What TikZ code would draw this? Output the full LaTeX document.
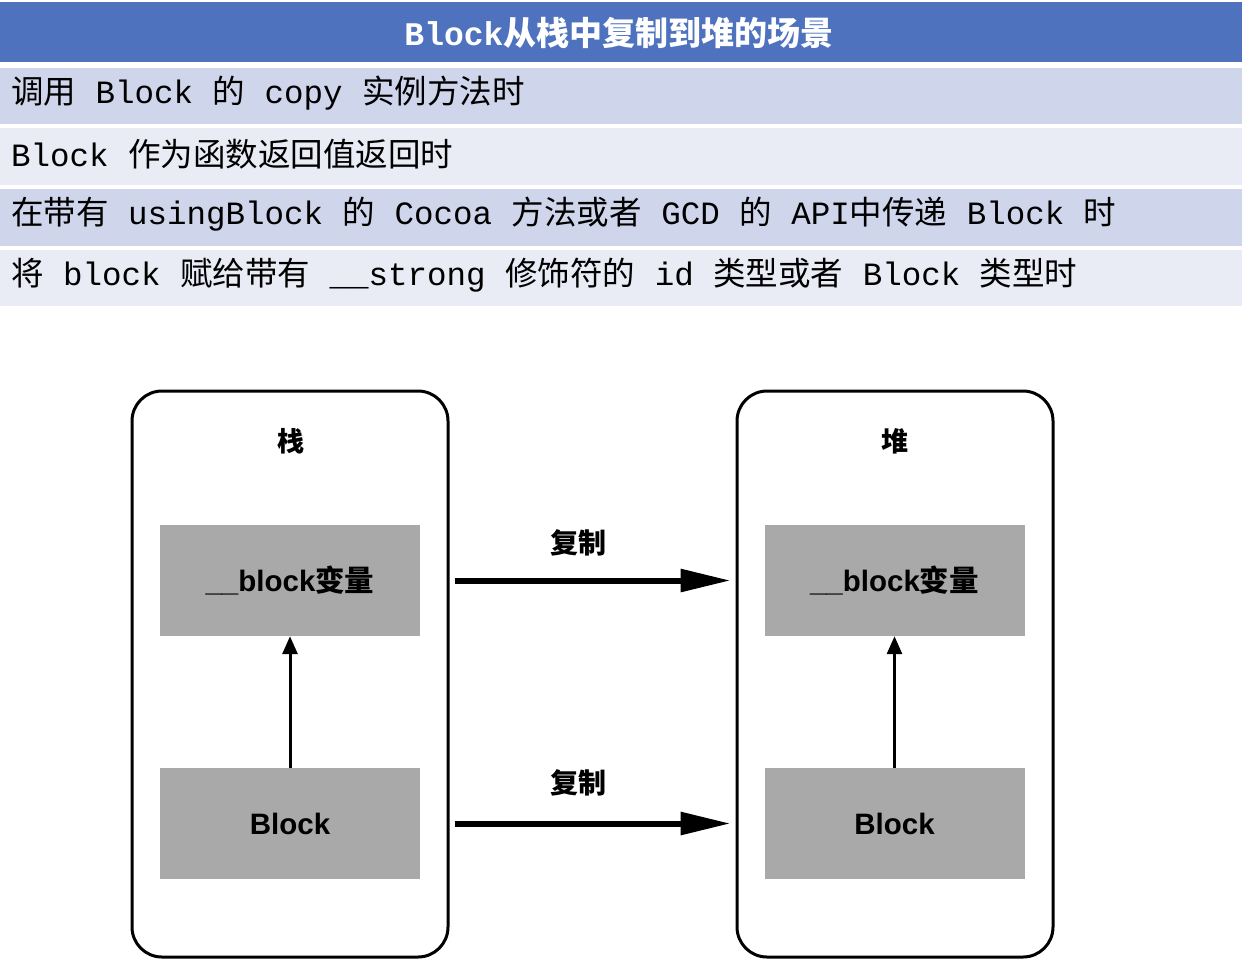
\documentclass[tikz,border=0pt]{standalone}
\usepackage{fontspec}
\setmainfont{Liberation Sans}
\setmonofont{Liberation Mono}
\newfontfamily\zhfont{Noto Sans CJK SC}
\newcommand{\zh}[1]{{\zhfont #1}}
\usetikzlibrary{arrows.meta}
\definecolor{hdr}{HTML}{4E72BE}
\definecolor{rowa}{HTML}{CFD5EA}
\definecolor{rowb}{HTML}{E9EBF5}
\definecolor{boxgray}{HTML}{A9A9A9}
\tikzset{
  rowtext/.style={anchor=west, inner sep=0pt, font=\ttfamily\fontsize{32.5}{32.5}\selectfont},
  container/.style={draw, line width=3pt, rounded corners=30pt, minimum width=316pt, minimum height=566pt, inner sep=0pt},
  graybox/.style={fill=boxgray, minimum width=260pt, minimum height=111pt, inner sep=0pt, font=\bfseries\fontsize{29.5}{29.5}\selectfont},
  title/.style={font=\zhfont\bfseries\fontsize{27}{27}\selectfont, inner sep=0pt},
  bigarrow/.style={line width=6pt, -{Triangle[length=50pt,width=22pt]}, shorten <=5pt, shorten >=5pt},
  smallarrow/.style={line width=3pt, -{Triangle[length=18pt,width=15pt]}},
  copylabel/.style={font=\zhfont\bfseries\fontsize{28}{28}\selectfont, inner sep=0pt}
}
\begin{document}
\begin{tikzpicture}[x=1pt,y=-1pt]
\useasboundingbox (0,0) rectangle (1246,970);
% table
\fill[hdr] (0,2) rectangle (1242,62);
\fill[rowa] (0,68) rectangle (1242,124);
\fill[rowb] (0,128) rectangle (1242,185);
\fill[rowa] (0,189) rectangle (1242,246);
\fill[rowb] (0,250) rectangle (1242,306);
\node[text=white, inner sep=0pt, font=\ttfamily\bfseries\fontsize{33}{33}\selectfont] (head) at (619,33) {Block\zh{\bfseries 从栈中复制到堆的场景}};
\node[rowtext] (r1) at (11,93) {\zh{调用} Block \zh{的} copy \zh{实例方法时}};
\node[rowtext] (r2) at (11,154) {Block \zh{作为函数返回值返回时}};
\node[rowtext] (r3) at (11,214) {\zh{在带有} usingBlock \zh{的} Cocoa \zh{方法或者} GCD \zh{的} API\zh{中传递} Block \zh{时}};
\node[rowtext] (r4) at (11,275) {\zh{将} block \zh{赋给带有} \_\_strong \zh{修饰符的} id \zh{类型或者} Block \zh{类型时}};
% diagram
\node[container] (stack) at (290,674) {};
\node[container] (heap) at (895,674) {};
\node[title] (stacklbl) at (291,441) {栈};
\node[title] (heaplbl) at (895,441) {堆};
\node[graybox] (lvar) at (290,580.5) {\_\_block\zh{\bfseries 变量}};
\node[graybox] (lblk) at (290,823.5) {Block};
\node[graybox] (rvar) at (894.5,580.5) {\_\_block\zh{\bfseries 变量}};
\node[graybox] (rblk) at (894.5,823.5) {Block};
\draw[smallarrow] (lblk.north) -- (lvar.south);
\draw[smallarrow] (rblk.north) -- (rvar.south);
\draw[bigarrow] (stack.east |- lvar.center) -- (heap.west |- rvar.center);
\draw[bigarrow] (stack.east |- lblk.center) -- (heap.west |- rblk.center);
\node[copylabel] (c1) at (578,543) {复制};
\node[copylabel] (c2) at (578,783) {复制};
\end{tikzpicture}
\end{document}
